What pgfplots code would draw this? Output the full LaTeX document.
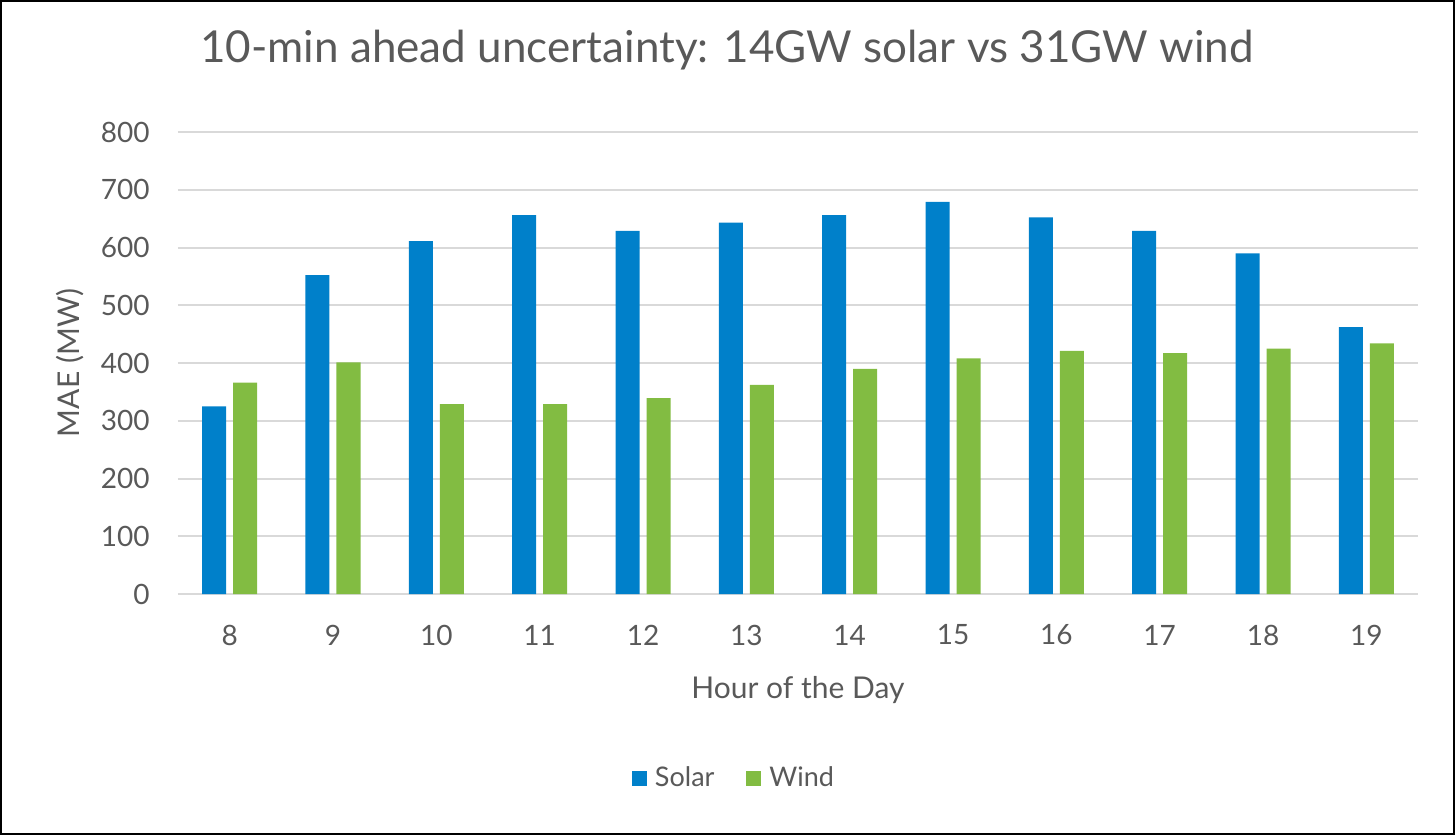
\documentclass[border=0pt]{standalone}
\usepackage{pgfplots}
\pgfplotsset{compat=1.18}
\usepackage{fontspec}
\setmainfont{Lato}
\definecolor{solarblue}{RGB}{0,128,202}
\definecolor{windgreen}{RGB}{130,188,66}
\definecolor{txtgrey}{RGB}{89,89,89}
\definecolor{gridgrey}{RGB}{217,217,217}
\begin{document}
\begin{tikzpicture}
\begin{axis}[
  at={(0,0)}, anchor=south west,
  scale only axis, width=620pt, height=231pt,
  ybar=3.5pt, bar width=12pt,
  xmin=-0.5, xmax=11.5, ymin=0, ymax=800,
  xtick={0,...,11},
  xticklabels={8,9,10,11,12,13,14,15,16,17,18,19},
  ytick={0,100,...,800},
  axis line style={draw=none},
  axis x line*=bottom,
  major tick length=0pt,
  ymajorgrids, grid style={gridgrey, line width=1pt},
  /pgf/number format/assume math mode=true,
  ticklabel style={font=\fontsize{14}{16}\selectfont, text=txtgrey},
  xticklabel style={anchor=center, yshift=-20.5pt},
  yticklabel style={anchor=east, inner sep=0pt, xshift=-14pt},
  xlabel={Hour of the Day},
  ylabel={MAE (MW)},
  label style={font=\fontsize{15}{18}\selectfont, text=txtgrey},
  xlabel style={at={(axis description cs:0.5,0)}, anchor=center, yshift=-48pt},
  ylabel style={at={(axis description cs:0,0.5)}, anchor=center, yshift=54pt},
  title={10-min ahead uncertainty: 14GW solar vs 31GW wind},
  title style={font=\fontsize{22}{26}\selectfont, text=txtgrey, at={(axis description cs:0.5,1)}, anchor=center, yshift=35pt, xshift=-35.5pt},
  legend style={at={(axis description cs:0.5,0)}, anchor=center, xshift=-30.5pt, yshift=-92pt, draw=none, fill=none, font=\fontsize{13.5}{16}\selectfont, text=txtgrey, legend columns=2, /tikz/every even column/.append style={column sep=12pt}, nodes={inner xsep=4pt}},
  legend image code/.code={\fill[#1] (0pt,-3.75pt) rectangle (7.5pt,3.75pt);},
  every axis plot/.append style={draw=none},
]
\addplot[fill=solarblue] coordinates {(0,325) (1,552) (2,611) (3,656) (4,629) (5,643) (6,656) (7,679) (8,652) (9,629) (10,590) (11,462)};
\addlegendentry{Solar}
\addplot[fill=windgreen] coordinates {(0,366) (1,401) (2,329) (3,329) (4,339) (5,362) (6,390) (7,408) (8,421) (9,417) (10,425) (11,434)};
\addlegendentry{Wind}
\end{axis}
\draw[black, line width=1pt] (-88.5pt,-120pt) rectangle (638pt,296.5pt);
\end{tikzpicture}
\end{document}
